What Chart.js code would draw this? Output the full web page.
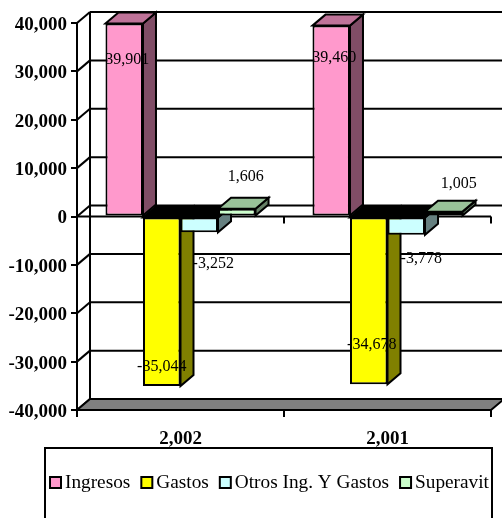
<!DOCTYPE html>
<html>
<head>
<meta charset="utf-8">
<style>html,body{margin:0;padding:0;background:#fff}canvas{display:block}</style>
<script src="https://cdn.jsdelivr.net/npm/chart.js@4/dist/chart.umd.js"></script>
</head>
<body>
<canvas id="c" width="502" height="518"></canvas>
<script>
const years = ['2,002', '2,001'];
const seriesNames = ['Ingresos', 'Gastos', 'Otros Ing. Y Gastos', 'Superavit'];
const ingresos = [39901, 39460];
const gastos = [-35044, -34678];
const otros = [-3252, -3778];
const superavit = [1606, 1005];

const FRONT = ['#FF99CC', '#FFFF00', '#CCFFFF', '#CCFFCC'];
const SIDE = ['#804D66', '#808000', '#668080', '#668066'];
const TOP = ['#BF7399', '#000000', '#000000', '#99C299'];
const DX = 13, DY = 11;
const SERIF = '"Liberation Serif", "Times New Roman", serif';

// where Excel left each data label, relative to the bar end [series][year]
const labelShift = [
  [[3, 36], [3, 32]],
  [[0, -19], [3, -39]],
  [[14, 32], [15, 24]],
  [[9, -32], [15, -28]]
];

function poly(ctx, pts, fill) {
  ctx.beginPath();
  pts.forEach((p, i) => i ? ctx.lineTo(p[0], p[1]) : ctx.moveTo(p[0], p[1]));
  ctx.closePath();
  if (fill) { ctx.fillStyle = fill; ctx.fill(); }
  ctx.stroke();
}

function line(ctx, x1, y1, x2, y2) {
  ctx.beginPath();
  ctx.moveTo(x1, y1);
  ctx.lineTo(x2, y2);
  ctx.stroke();
}

const box3d = {
  id: 'box3d',
  beforeDatasetsDraw(chart) {
    const ctx = chart.ctx, { x, y } = chart.scales, a = chart.chartArea;
    ctx.save();
    ctx.strokeStyle = '#000';
    ctx.lineWidth = 2;
    ctx.lineJoin = 'miter';

    // walls and gridlines
    y.ticks.forEach(t => {
      const py = y.getPixelForValue(t.value);
      line(ctx, a.left, py, a.left + DX, py - DY);
      line(ctx, a.left + DX, py - DY, chart.width + 2, py - DY);
    });
    line(ctx, a.left + DX, a.top - DY, a.left + DX, a.bottom - DY);
    poly(ctx, [[a.left, a.bottom], [a.left + DX, a.bottom - DY], [a.right + DX, a.bottom - DY], [a.right, a.bottom]], '#808080');

    // zero plane, front edge with its ticks
    const y0 = y.getPixelForValue(0);
    line(ctx, a.left, y0, a.right, y0);
    [1, 2].forEach(i => {
      const px = a.left + i * (a.right - a.left) / 2;
      line(ctx, px, y0, px, y0 + 7);
    });

    // bar sides and tops, fronts come from chart.js
    chart.data.datasets.forEach((ds, s) => {
      chart.getDatasetMeta(s).data.forEach(bar => {
        const p = bar.getProps(['x', 'y', 'base', 'width'], true);
        const l = p.x - p.width / 2, r = p.x + p.width / 2;
        const up = Math.min(p.y, p.base), down = Math.max(p.y, p.base);
        poly(ctx, [[r, up], [r + DX, up - DY], [r + DX, down - DY], [r, down]], SIDE[s]);
        poly(ctx, [[l, up], [l + DX, up - DY], [r + DX, up - DY], [r, up]], TOP[s]);
      });
    });
    ctx.restore();
  },
  afterDatasetsDraw(chart) {
    const ctx = chart.ctx;
    ctx.save();
    ctx.font = '16px ' + SERIF;
    ctx.fillStyle = '#000';
    ctx.textAlign = 'center';
    ctx.textBaseline = 'middle';
    chart.data.datasets.forEach((ds, s) => {
      chart.getDatasetMeta(s).data.forEach((bar, i) => {
        const txt = ds.data[i].toLocaleString('en-US');
        const sh = labelShift[s][i];
        ctx.fillText(txt, bar.x + sh[0], bar.y + sh[1]);
      });
    });
    ctx.restore();
  },
  afterDraw(chart) {
    const ctx = chart.ctx;
    ctx.save();
    ctx.strokeStyle = '#000';
    ctx.lineWidth = 2;
    ctx.beginPath();
    ctx.rect(45, 448, 447, 90);
    ctx.fillStyle = '#fff';
    ctx.fill();
    ctx.stroke();

    // legend
    ctx.font = '19.3px ' + SERIF;
    ctx.textBaseline = 'middle';
    ctx.textAlign = 'left';
    let lx = 50;
    seriesNames.forEach((name, s) => {
      ctx.fillStyle = FRONT[s];
      ctx.fillRect(lx, 477, 11, 11);
      ctx.strokeRect(lx, 477, 11, 11);
      ctx.fillStyle = '#000';
      ctx.fillText(name, lx + 15, 483);
      lx += 15 + ctx.measureText(name).width + 11;
    });
    ctx.restore();
  }
};

const values = [ingresos, gastos, otros, superavit];

new Chart(document.getElementById('c'), {
  type: 'bar',
  data: {
    labels: years,
    datasets: seriesNames.map((name, s) => ({
      label: name,
      data: values[s],
      backgroundColor: FRONT[s],
      borderColor: '#000',
      borderWidth: 2,
      borderSkipped: false,
      categoryPercentage: 0.725,
      barPercentage: 1
    }))
  },
  options: {
    responsive: false,
    animation: false,
    devicePixelRatio: 1,
    layout: { padding: { top: 23, right: 11, left: 0, bottom: 0 } },
    plugins: { legend: { display: false }, tooltip: { enabled: false } },
    scales: {
      x: {
        afterFit: s => { s.height = 108; },
        grid: { drawOnChartArea: false, color: '#000', lineWidth: 2, tickLength: 7 },
        border: { color: '#000', width: 2 },
        ticks: { color: '#000', padding: 11, maxRotation: 0, font: { family: SERIF, size: 19, weight: 'bold' } }
      },
      y: {
        min: -40000,
        max: 40000,
        afterFit: s => { s.width = 77; },
        grid: { drawOnChartArea: false, color: '#000', lineWidth: 2, tickLength: 6 },
        border: { color: '#000', width: 2 },
        ticks: {
          stepSize: 10000,
          color: '#000',
          padding: 4,
          // blank first line + short line height nudges the label 2px down, as in the original
          font: { family: SERIF, size: 19, weight: 'bold', lineHeight: '4px' },
          callback: v => ['', v.toLocaleString('en-US')]
        }
      }
    }
  },
  plugins: [box3d]
});
</script>
</body>
</html>
